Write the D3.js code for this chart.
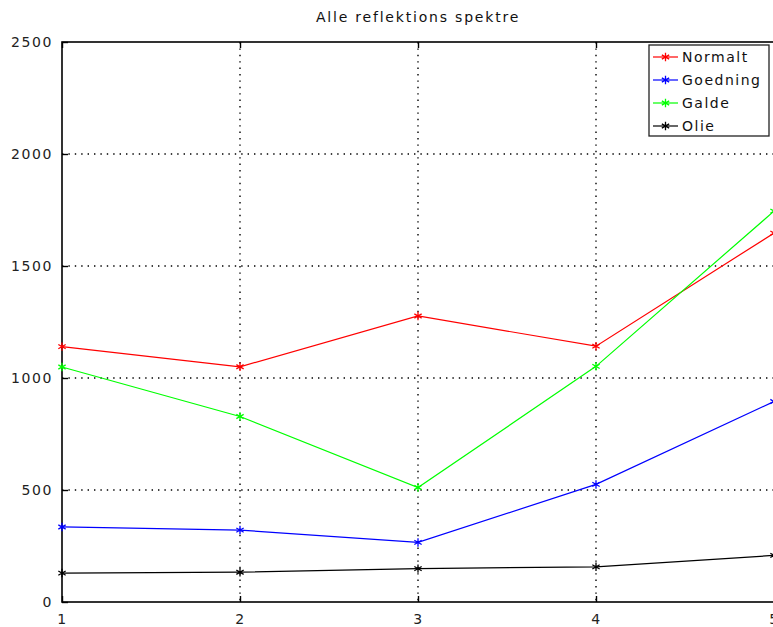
<!DOCTYPE html>
<html>
<head>
<meta charset="utf-8">
<style>
body { margin: 0; background: #fff; }
svg { display: block; font-family: "DejaVu Sans", sans-serif; }
</style>
<script src="https://cdn.jsdelivr.net/npm/d3@7"></script>
</head>
<body>
<svg id="chart" width="773" height="627"></svg>
<script>
var title = "Alle reflektions spektre";
var xValues = [1, 2, 3, 4, 5];
var yTicks = [0, 500, 1000, 1500, 2000, 2500];
var seriesNames = ["Normalt", "Goedning", "Galde", "Olie"];
var seriesColors = ["#ff0000", "#0000ff", "#00ff00", "#000000"];
var normalt = [1140, 1050, 1277, 1142, 1647];
var goedning = [335, 321, 266, 525, 895];
var galde = [1049, 828, 511, 1052, 1745];
var olie = [129, 133, 149, 157, 208];
var seriesValues = [normalt, goedning, galde, olie];

var svg = d3.select("#chart");
var plotLeft = 62, plotRight = 774, plotTop = 42, plotBottom = 602;

var x = d3.scaleLinear().domain([1, 5]).range([plotLeft, plotRight]);
var y = d3.scaleLinear().domain([0, 2500]).range([plotBottom, plotTop]);

// grid
svg.append("g").selectAll("line").data(xValues.slice(1, -1)).enter().append("line")
  .attr("x1", function(d) { return x(d); }).attr("x2", function(d) { return x(d); })
  .attr("y1", plotTop).attr("y2", plotBottom)
  .attr("stroke", "#000").attr("stroke-width", 1.4).attr("stroke-dasharray", "1.4,5");
svg.append("g").selectAll("line").data(yTicks.slice(1, -1)).enter().append("line")
  .attr("x1", plotLeft).attr("x2", plotRight)
  .attr("y1", function(d) { return y(d); }).attr("y2", function(d) { return y(d); })
  .attr("stroke", "#000").attr("stroke-width", 1.4).attr("stroke-dasharray", "1.4,5");

// axes
var xAxis = d3.axisBottom(x).tickValues(xValues).tickSize(-6).tickPadding(12).tickFormat(d3.format("d"));
var yAxis = d3.axisLeft(y).tickValues(yTicks).tickSize(-6).tickPadding(9).tickFormat(d3.format("d"));

var gx = svg.append("g").attr("transform", "translate(0," + plotBottom + ")").call(xAxis);
var gy = svg.append("g").attr("transform", "translate(" + plotLeft + ",0)").call(yAxis);
svg.append("g").attr("transform", "translate(0," + plotTop + ")")
  .call(d3.axisTop(x).tickValues(xValues).tickSize(-6).tickFormat(""));
[gx, gy].forEach(function(g) {
  g.selectAll("text").attr("fill", "#222").style("font-size", "14px")
    .style("font-family", "DejaVu Sans, sans-serif").style("letter-spacing", "1.6px");
});
svg.selectAll(".domain").remove();
svg.selectAll(".tick line").attr("stroke", "#000").attr("stroke-width", 1.4);

// frame
svg.append("rect").attr("x", plotLeft).attr("y", plotTop)
  .attr("width", plotRight - plotLeft).attr("height", plotBottom - plotTop)
  .attr("fill", "none").attr("stroke", "#000").attr("stroke-width", 1.6);

// series
var line = d3.line().x(function(d, i) { return x(xValues[i]); }).y(function(d) { return y(d); });
var star = d3.symbol().type(d3.symbolAsterisk).size(50);

seriesValues.forEach(function(vals, k) {
  var g = svg.append("g");
  g.append("path").datum(vals).attr("d", line)
    .attr("fill", "none").attr("stroke", seriesColors[k]).attr("stroke-width", 1.2);
  g.selectAll("path.pt").data(vals).enter().append("path").attr("class", "pt")
    .attr("d", star)
    .attr("transform", function(d, i) { return "translate(" + x(xValues[i]) + "," + y(d) + ")"; })
    .attr("fill", "none").attr("stroke", seriesColors[k]).attr("stroke-width", 1.3);
});

// title
svg.append("text").attr("x", (plotLeft + plotRight) / 2).attr("y", 22)
  .attr("text-anchor", "middle").attr("fill", "#111")
  .style("font-size", "14px").style("letter-spacing", "1.8px").text(title);

// legend
var lg = svg.append("g");
lg.append("rect").attr("x", 649).attr("y", 45).attr("width", 120).attr("height", 91)
  .attr("fill", "#fff").attr("stroke", "#222").attr("stroke-width", 1.3);
seriesNames.forEach(function(name, k) {
  var ly = 57 + k * 23;
  lg.append("line").attr("x1", 653).attr("x2", 678).attr("y1", ly).attr("y2", ly)
    .attr("stroke", seriesColors[k]).attr("stroke-width", 1.2);
  lg.append("path").attr("d", star).attr("transform", "translate(665.5," + ly + ")")
    .attr("fill", "none").attr("stroke", seriesColors[k]).attr("stroke-width", 1.3);
  lg.append("text").attr("x", 682).attr("y", ly + 5).attr("fill", "#111")
    .style("font-size", "14px").style("letter-spacing", "1.5px").text(name);
});
</script>
</body>
</html>
